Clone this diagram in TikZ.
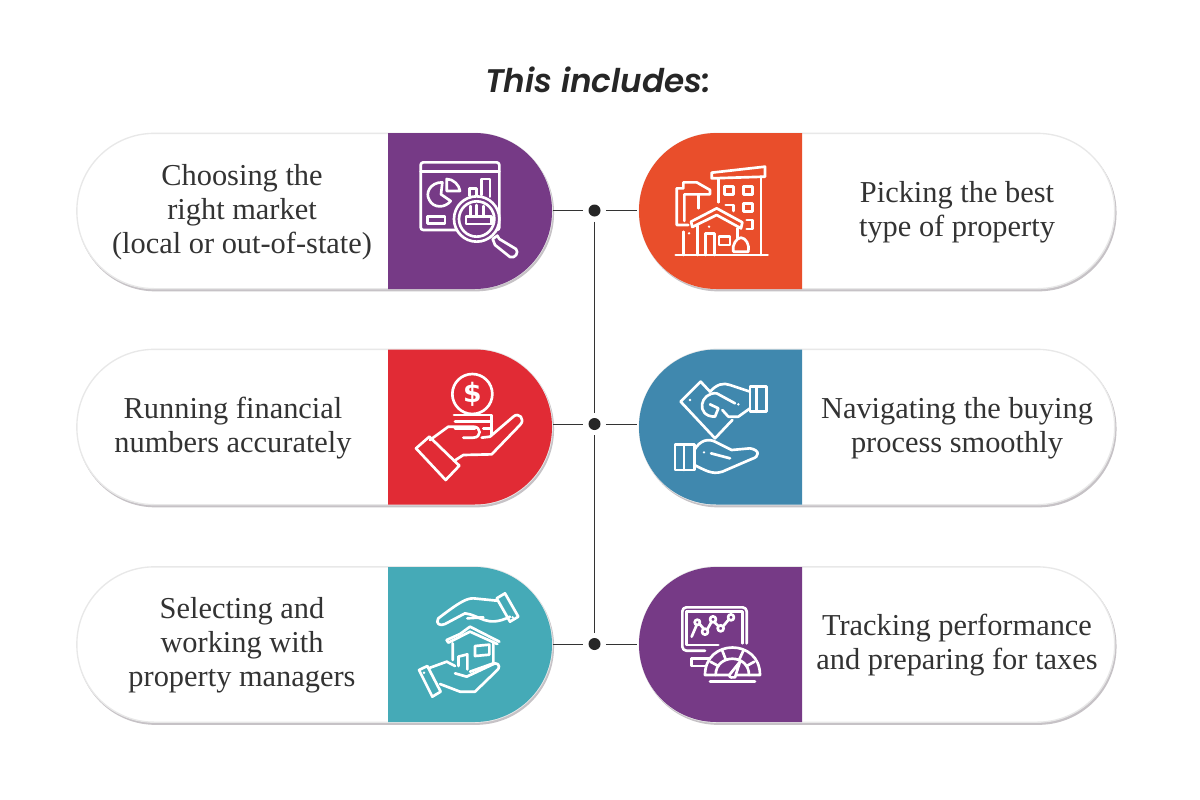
\documentclass[tikz,border=0pt]{standalone}
\usepackage{fontspec}
\setmainfont{Liberation Serif}
\newfontfamily\titlefont{Poppins}[BoldItalicFont={Poppins SemiBold Italic}]
\newfontfamily\iconfont{DejaVu Sans}
\definecolor{cpurple}{HTML}{763A86}
\definecolor{corange}{HTML}{E94E2B}
\definecolor{cred}{HTML}{E12B35}
\definecolor{cblue}{HTML}{4088AE}
\definecolor{cteal}{HTML}{45AAB7}
\definecolor{ctext}{HTML}{333333}
\definecolor{cshadow}{HTML}{C6C2C6}
\definecolor{cedge}{HTML}{E8E8E8}
\tikzset{
  pillbox/.style={rectangle, rounded corners=58pt, fill=white, draw=cedge, line width=1pt,
    minimum width=356.5pt, minimum height=116.5pt, inner sep=0pt,
    preaction={draw=cshadow, fill=cshadow, line width=1pt, transform canvas={shift={(0.9pt,-1.5pt)}}}},
  label/.style={font=\fontsize{22.8}{25.5}\selectfont, text=ctext, align=center, inner sep=0pt},
  title/.style={font=\titlefont\bfseries\itshape\fontsize{24.5}{30}\selectfont, text=black!85, inner sep=0pt},
  wire/.style={draw=black!80, line width=0.75pt},
  hub/.style={circle, fill=black!85, minimum size=9pt, inner sep=0pt, outer sep=4pt},
  ico/.style={draw=white, line width=2pt, line cap=round, line join=round},
  icospace/.style={x=0.25pt, y=-0.25pt}
}
\begin{document}
\begin{tikzpicture}[x=0.75pt, y=-0.75pt]
\useasboundingbox (0,0) rectangle (1200,800);
\fill[white] (0,0) rectangle (1200,800);

\node[title] (heading) at (598,80) {This includes:};

% pills
\node[pillbox] (pa) at (314.5,211) {};
\node[pillbox] (pb) at (877,211) {};
\node[pillbox] (pc) at (314.5,427) {};
\node[pillbox] (pd) at (877,427) {};
\node[pillbox] (pe) at (314.5,644.5) {};
\node[pillbox] (pf) at (877,644.5) {};

% coloured caps
\fill[cpurple] (388,133) [rounded corners=58pt] -- (552,133) -- (552,289) [sharp corners] -- (388,289) -- cycle;
\fill[corange] (802,133) [rounded corners=58pt] -- (639,133) -- (639,289) [sharp corners] -- (802,289) -- cycle;
\fill[cred] (388,349.5) [rounded corners=58pt] -- (552,349.5) -- (552,504.5) [sharp corners] -- (388,504.5) -- cycle;
\fill[cblue] (802,349.5) [rounded corners=58pt] -- (639,349.5) -- (639,504.5) [sharp corners] -- (802,504.5) -- cycle;
\fill[cteal] (388,567) [rounded corners=58pt] -- (552,567) -- (552,722) [sharp corners] -- (388,722) -- cycle;
\fill[cpurple] (802,567) [rounded corners=58pt] -- (639,567) -- (639,722) [sharp corners] -- (802,722) -- cycle;

% texts
\node[label] (ta) at (242,212) {Choosing the\\right market\\(local or out-of-state)};
\node[label] (tb) at (957,212) {Picking the best\\type of property};
\node[label] (tc) at (233,428) {Running financial\\numbers accurately};
\node[label] (td) at (957,428) {Navigating the buying\\process smoothly};
\node[label] (te) at (242,645) {Selecting and\\working with\\property managers};
\node[label] (tf) at (957,645) {Tracking performance\\and preparing for taxes};

% connectors
\node[hub] (ha) at (594.5,210.5) {};
\node[hub] (hb) at (594.5,424) {};
\node[hub] (hc) at (594.5,644) {};
\coordinate (la) at (553,210.5); \coordinate (ra) at (637,210.5);
\coordinate (lb) at (553,424); \coordinate (rb) at (637,424);
\coordinate (lc) at (553,644); \coordinate (rc) at (637,644);
\draw[wire] (la) -- (ha) -- (ra);
\draw[wire] (lb) -- (hb) -- (rb);
\draw[wire] (lc) -- (hc) -- (rc);
\draw[wire] (ha) -- (hb) -- (hc);

% icon 1: report under magnifier
\begin{scope}[shift={(380,125)}, icospace]
\draw[ico, rounded corners=2pt] (122,112) rectangle (358,315);
\draw[ico] (122,140) -- (358,140);
\draw[ico] (200,162) .. controls (220,162) and (238,180) .. (240,198) -- (200,198) -- cycle;
\draw[ico] (187,172) .. controls (150,172) and (135,205) .. (148,225) .. controls (160,250) and (195,250) .. (212,228) -- (183,208) -- cycle;
\draw[ico] (142,275) rectangle (195,295);
\draw[ico] (268,212) -- (268,190) -- (290,190) -- (290,212);
\draw[ico] (305,210) -- (305,162) -- (330,162) -- (330,215);
\draw[ico, fill=cpurple] (290,282) circle[radius=68];
\draw[ico] (290,282) circle[radius=53];
\draw[ico] (258,275) rectangle (334,297);
\draw[ico] (272,275) -- (272,243) (290,275) -- (290,240) (310,275) -- (310,243);
\draw[ico, fill=cpurple] (338,342) -- (352,332) -- (358,342) -- (408,372) .. controls (418,382) and (405,402) .. (390,396) -- (345,360) -- cycle;
\end{scope}

% icon 2: buildings
\begin{scope}[shift={(635,125)}, icospace]
\draw[ico] (230,143) -- (390,125) -- (390,155) -- (230,160) -- cycle;
\draw[ico] (250,160) -- (250,232) (378,155) -- (378,390);
\draw[ico] (268,185) rectangle (296,208) (325,185) rectangle (352,208) (325,235) rectangle (352,260);
\draw[ico] (272,240) -- (296,240) -- (296,258);
\draw[ico] (335,285) -- (352,285) -- (352,312) -- (335,312);
\draw[ico] (168,290) -- (245,250) -- (322,292) -- (318,310) -- (245,270) -- (172,306) -- cycle;
\draw[ico] (188,302) -- (188,390) (308,310) -- (308,340);
\draw[ico] (212,390) -- (212,325) -- (238,325) -- (238,390);
\draw[ico] (252,335) rectangle (285,360);
\draw[ico] (295,380) .. controls (290,360) and (305,338) .. (318,338) .. controls (332,338) and (345,360) .. (340,380) -- cycle;
\draw[ico] (122,390) -- (398,390);
\draw[ico] (160,300) -- (125,300) -- (125,190) -- (145,190) -- (145,172) -- (185,172) -- (225,195) -- (225,208) -- (148,208) -- (148,288);
\draw[ico] (190,208) -- (190,250) (145,320) -- (145,390);
\fill[white] (162,325) circle[radius=4] (222,305) circle[radius=4];
\end{scope}

% icon 3: coin in hand
\begin{scope}[shift={(380,345)}, icospace]
\draw[ico] (277,147) circle[radius=60];
\node[font=\iconfont\bfseries\fontsize{20}{20}\selectfont, text=white, inner sep=0pt] (dollar) at (277,147) {\$};
\draw[ico] (222,210) -- (335,210) -- (335,270);
\draw[ico] (225,230) -- (335,230);
\draw[ico] (225,250) -- (285,250) (310,250) -- (335,250);
\draw[ico] (108,310) -- (148,275) -- (238,362) -- (197,405) -- cycle;
\draw[ico] (150,285) -- (205,245) -- (280,245) .. controls (305,245) and (305,278) .. (280,278) -- (250,278);
\draw[ico] (305,278) -- (330,275) -- (400,215) .. controls (415,200) and (438,222) .. (420,240) -- (335,328) -- (250,330) -- (222,348);
\end{scope}

% icon 4: two hands and banknote
\begin{scope}[shift={(635,345)}, icospace]
\draw[ico] (345,125) rectangle (395,200);
\draw[ico] (365,125) -- (365,200);
\draw[ico] (225,140) -- (197,110) -- (137,170) -- (240,280) -- (292,225);
\draw[ico] (225,140) .. controls (245,118) and (265,112) .. (285,120) -- (345,140);
\draw[ico] (345,190) -- (310,215) -- (280,215) -- (262,195);
\draw[ico] (300,175) -- (245,145) .. controls (195,140) and (180,215) .. (240,215) -- (250,190) -- (225,178);
\fill[white] (310,178) circle[radius=4] (165,165) circle[radius=4];
\draw[ico] (120,298) rectangle (178,375);
\draw[ico] (147,298) -- (147,375);
\draw[ico] (178,315) .. controls (195,285) and (220,280) .. (240,290) -- (290,315) -- (345,310) .. controls (375,315) and (375,335) .. (350,342) -- (262,380) .. controls (230,390) and (210,375) .. (178,360);
\draw[ico] (228,325) -- (285,340);
\fill[white] (207,322) circle[radius=4];
\end{scope}

% icon 5: house between hands
\begin{scope}[shift={(380,560)}, icospace]
\draw[ico] (350,115) -- (375,100) -- (415,170) -- (390,185) -- cycle;
\draw[ico] (350,122) -- (280,115) .. controls (260,115) and (240,125) .. (175,175) .. controls (165,190) and (180,200) .. (195,192) -- (255,160) .. controls (300,165) and (320,205) .. (390,170);
\draw[ico] (262,175) -- (310,172);
\draw[ico] (200,240) -- (240,222) -- (270,200) -- (358,245);
\draw[ico] (200,240) -- (205,248) -- (270,215) -- (352,252);
\draw[ico] (218,250) -- (218,300) (340,245) -- (340,310) -- (270,335);
\draw[ico] (235,290) -- (262,283) -- (262,328);
\draw[ico] (235,290) -- (235,318);
\draw[ico] (285,258) -- (328,254) -- (328,284) -- (285,288) -- cycle;
\draw[ico] (117,330) -- (142,318) -- (182,395) -- (157,410) -- cycle;
\draw[ico] (145,325) -- (200,305) -- (225,318);
\draw[ico] (225,340) -- (260,350) -- (345,310) .. controls (360,310) and (360,325) .. (350,332) -- (285,395) -- (240,395) -- (180,372);
\fill[white] (132,338) circle[radius=4] (398,172) circle[radius=4];
\end{scope}

% icon 6: monitor and gauge
\begin{scope}[shift={(635,560)}, icospace]
\draw[ico, rounded corners=3pt] (210,272) -- (142,272) -- (142,142) -- (335,142) -- (335,250);
\draw[ico] (250,255) -- (155,255) -- (155,155) -- (322,155) -- (322,250);
\draw[ico] (170,295) -- (225,295) (170,295) -- (170,318) -- (212,318);
\draw[ico] (170,230) -- (185,195) (217,208) -- (228,188) (240,188) -- (250,198) (265,198) -- (280,180);
\draw[ico] (192,190) -- (205,205);
\draw[ico] (187,187) circle[radius=8] (210,215) circle[radius=9] (234,178) circle[radius=9] (257,205) circle[radius=9] (288,172) circle[radius=9];
\draw[ico, fill=cpurple] (210,345) .. controls (210,235) and (375,235) .. (375,345) -- cycle;
\draw[ico] (242,345) .. controls (242,280) and (342,280) .. (342,345);
\draw[ico] (226,305) -- (250,318) (262,272) -- (272,298) (325,272) -- (313,298) (358,305) -- (335,318);
\draw[ico, fill=cpurple] (283,345) -- (315,305) -- (300,352) .. controls (292,355) and (282,352) .. (283,345) -- cycle;
\draw[ico] (225,365) -- (360,365);
\end{scope}
\end{tikzpicture}
\end{document}
